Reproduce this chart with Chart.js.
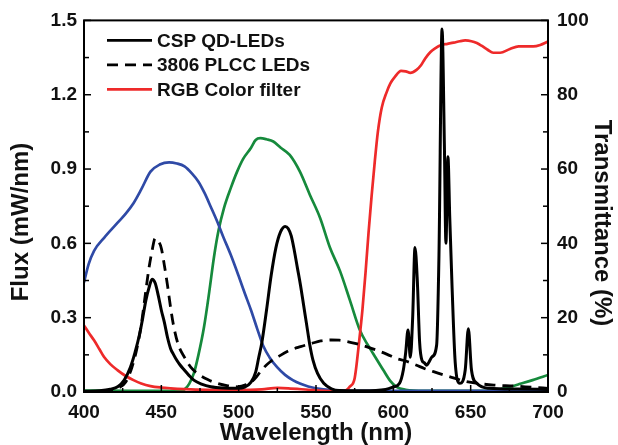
<!DOCTYPE html>
<html lang="en">
<head>
  <meta charset="UTF-8" />
  <title>Flux and Transmittance</title>
  <script src="https://cdn.jsdelivr.net/npm/chart.js"></script>
  <style>
    body { margin: 0; background: #fff; }
    #wrap { width: 618px; height: 445px; }
  </style>
</head>
<body>
  <div id="wrap"><canvas id="chart" width="618" height="445"></canvas></div>

  <script>
    // CSP QD-LEDs emission (flux, mW/nm)
    const cspWl = [400, 410, 417, 422, 426, 430, 433, 436, 438, 440, 442, 444, 446, 448, 450, 452, 454, 456, 458, 460, 462, 465, 468, 471, 476, 482, 490, 499, 504, 508, 511, 513, 515, 518, 521, 524, 527, 530, 532, 534, 536, 538, 540, 542, 544, 546, 548, 551, 555, 560, 565, 580, 595, 600, 604, 606.5, 608, 609.5, 611, 612.5, 614, 615.5, 617, 618.5, 620, 621.5, 623, 625, 628, 629.5, 631.5, 633, 634, 635.3, 636.5, 638, 640, 643, 646.5, 648.5, 650.5, 654, 662, 680, 700];
    const cspFlux = [0.003, 0.005, 0.011, 0.022, 0.048, 0.10, 0.16, 0.235, 0.30, 0.37, 0.42, 0.455, 0.44, 0.39, 0.33, 0.28, 0.22, 0.175, 0.15, 0.128, 0.11, 0.088, 0.066, 0.048, 0.032, 0.021, 0.016, 0.015, 0.02, 0.04, 0.08, 0.14, 0.2, 0.33, 0.47, 0.58, 0.645, 0.668, 0.66, 0.63, 0.57, 0.5, 0.43, 0.35, 0.27, 0.19, 0.13, 0.075, 0.035, 0.013, 0.006, 0.005, 0.01, 0.02, 0.035, 0.09, 0.16, 0.25, 0.14, 0.3, 0.583, 0.45, 0.2, 0.128, 0.118, 0.108, 0.12, 0.142, 0.19, 0.55, 1.465, 1.0, 0.6, 0.95, 0.7, 0.42, 0.12, 0.035, 0.09, 0.255, 0.09, 0.035, 0.015, 0.012, 0.01];

    // 3806 PLCC LEDs emission (flux, mW/nm)
    const plccWl = [400, 415, 422, 427, 431, 434, 437, 440, 442, 444, 446, 448, 450, 452, 454, 456, 458, 461, 465, 469, 474, 480, 486, 493, 499, 505, 510, 515, 520, 527, 533, 540, 547, 553, 560, 565, 570, 576, 583, 590, 596, 602, 608, 615, 620, 626, 633, 640, 647, 655, 665, 678, 690, 700];
    const plccFlux = [0.002, 0.005, 0.015, 0.04, 0.1, 0.17, 0.27, 0.41, 0.5, 0.57, 0.62, 0.61, 0.58, 0.51, 0.43, 0.34, 0.265, 0.19, 0.14, 0.1, 0.072, 0.05, 0.035, 0.025, 0.021, 0.03, 0.05, 0.09, 0.12, 0.148, 0.168, 0.183, 0.196, 0.206, 0.21, 0.209, 0.204, 0.195, 0.182, 0.167, 0.152, 0.135, 0.125, 0.108, 0.095, 0.082, 0.068, 0.055, 0.042, 0.034, 0.028, 0.024, 0.019, 0.015];

    // color filter transmittance (%)
    const redWl = [400, 403, 406.5, 410, 413, 417, 421.6, 427, 432, 437, 443, 450, 456, 465, 480, 500, 515, 525, 532, 545, 555, 562, 568, 572, 575, 578, 580, 582, 584, 586, 588, 590, 592.5, 595.7, 598, 601, 605, 608, 611, 615, 618, 620.5, 624, 627, 631, 635, 639, 643, 646.5, 650.5, 654, 657, 661, 664.6, 669, 675.4, 681, 690.5, 695, 700];
    const redT = [17.9, 16, 13.9, 11.5, 9.4, 7.5, 5.9, 4.3, 3.2, 2.3, 1.6, 1.2, 1.0, 0.8, 0.6, 0.5, 0.7, 1.1, 1.0, 0.6, 0.3, 0.2, 0.2, 1.5, 3.7, 14, 22, 32, 43, 53, 62, 70, 76.5, 80.7, 83, 84.8, 86.4, 86.3, 85.9, 86.7, 88, 89.7, 91.5, 92.5, 93.4, 93.7, 94.0, 94.4, 94.6, 94.4, 93.9, 93.2, 92.1, 91.3, 91.3, 92.3, 93.0, 93.0, 93.4, 94.3];

    const blueWl = [400, 403, 406.5, 413, 421.6, 427, 432, 437, 443, 449, 455, 460, 465, 470, 474, 478, 482, 486, 490, 495, 500, 504, 508, 512, 516, 520, 525, 530, 535, 540, 545, 550, 560, 580, 700];
    const blueT = [29.5, 34.4, 38, 41.5, 45.5, 48, 50.8, 54.5, 59.3, 61.2, 61.8, 61.5, 60.7, 58.7, 56.6, 53.5, 49.8, 46, 41.8, 36.8, 31.2, 26.5, 22, 17, 12.3, 9.3, 6.6, 4.6, 3.2, 2.2, 1.5, 1, 0.5, 0.3, 0.3];

    const greenWl = [400, 430, 462, 465, 468, 471, 474, 477.6, 481, 484, 487, 490.5, 495, 499, 503, 507.8, 511, 514, 518, 522.4, 527, 533, 539.6, 546, 552.6, 559, 565.5, 572, 578.4, 583, 587, 593.5, 598, 602, 608, 620, 660, 668, 675.4, 682, 690, 700];
    const greenT = [0.4, 0.3, 0.3, 0.7, 2.2, 5, 10, 17.5, 27, 36.2, 43.5, 49.5, 55, 59.3, 62.8, 65.6, 67.8, 68.3, 68, 67.4, 65.8, 63.8, 59.3, 53.1, 46.9, 38.9, 32.6, 24.6, 16.6, 13, 10.3, 5.9, 3, 1.4, 0.6, 0.3, 0.3, 0.6, 1.4, 2.2, 3.2, 4.6];

    const legendLabels = ['CSP QD-LEDs', '3806 PLCC LEDs', 'RGB Color filter'];
    const xTicks = [400, 450, 500, 550, 600, 650, 700];
    const xMinor = [425, 475, 525, 575, 625, 675];
    const fluxTicks = [0.0, 0.3, 0.6, 0.9, 1.2, 1.5];
    const fluxMinor = [0.15, 0.45, 0.75, 1.05, 1.35];
    const transTicks = [0, 20, 40, 60, 80, 100];
    const transMinor = [10, 30, 50, 70, 90];

    const pts = (xs, ys) => xs.map((x, i) => ({ x: x, y: ys[i] }));
    const FONT = "'Liberation Sans', Arial, sans-serif";
    Chart.defaults.font.family = FONT;
    Chart.defaults.font.weight = 'bold';
    Chart.defaults.color = '#111';

    const line = (label, data, color, axis, extra) => Object.assign({
      label: label,
      data: data,
      borderColor: color,
      backgroundColor: color,
      borderWidth: 2.7,
      pointRadius: 0,
      fill: false,
      cubicInterpolationMode: 'monotone',
      yAxisID: axis
    }, extra || {});

    const frameAndTicks = {
      id: 'frameAndTicks',
      afterDraw(chart) {
        const { ctx, chartArea: a, scales } = chart;
        ctx.save();
        ctx.strokeStyle = '#000';
        ctx.lineWidth = 2;
        ctx.setLineDash([]);
        ctx.strokeRect(a.left, a.top, a.right - a.left, a.bottom - a.top);
        ctx.lineWidth = 1.5;
        const tick = (x1, y1, x2, y2) => { ctx.beginPath(); ctx.moveTo(x1, y1); ctx.lineTo(x2, y2); ctx.stroke(); };
        xTicks.forEach(v => { const p = scales.x.getPixelForValue(v); tick(p, a.bottom, p, a.bottom - 7); });
        xMinor.forEach(v => { const p = scales.x.getPixelForValue(v); tick(p, a.bottom, p, a.bottom - 4); });
        fluxTicks.forEach(v => { const p = scales.y.getPixelForValue(v); tick(a.left, p, a.left + 7, p); });
        fluxMinor.forEach(v => { const p = scales.y.getPixelForValue(v); tick(a.left, p, a.left + 5, p); });
        transTicks.forEach(v => { const p = scales.y2.getPixelForValue(v); tick(a.right, p, a.right - 7, p); });
        transMinor.forEach(v => { const p = scales.y2.getPixelForValue(v); tick(a.right, p, a.right - 5, p); });

        // legend
        ctx.font = 'bold 19px ' + FONT;
        ctx.textBaseline = 'middle';
        ctx.textAlign = 'left';
        legendLabels.forEach((lab, i) => {
          const ds = chart.data.datasets[i];
          const y = a.top + 20 + i * 24.5;
          ctx.strokeStyle = ds.borderColor;
          ctx.lineWidth = 2.7;
          ctx.setLineDash(ds.borderDash || []);
          tick(a.left + 23, y, a.left + 68, y);
          ctx.setLineDash([]);
          ctx.fillStyle = '#111';
          ctx.fillText(lab, a.left + 73, y + 1);
        });

        // vertical axis titles (sit a bit below the plot centre in the original)
        ctx.font = 'bold 24px ' + FONT;
        ctx.textAlign = 'center';
        ctx.fillStyle = '#111';
        ctx.save();
        ctx.translate(21, 222);
        ctx.rotate(-Math.PI / 2);
        ctx.fillText('Flux (mW/nm)', 0, 0);
        ctx.restore();
        ctx.save();
        ctx.translate(602, 223);
        ctx.rotate(Math.PI / 2);
        ctx.fillText('Transmittance (%)', 0, 0);
        ctx.restore();
        ctx.restore();
      }
    };

    const setTicks = (arr) => (scale) => { scale.ticks = arr.map(v => ({ value: v })); };
    const noGrid = { display: false, drawTicks: false };

    new Chart(document.getElementById('chart').getContext('2d'), {
      type: 'line',
      data: {
        datasets: [
          line(legendLabels[0], pts(cspWl, cspFlux), '#000', 'y', { borderWidth: 3 }),
          line(legendLabels[1], pts(plccWl, plccFlux), '#000', 'y', { borderWidth: 2.8, borderDash: [11, 7] }),
          line(legendLabels[2], pts(redWl, redT), '#ee2a2a', 'y2'),
          line('Blue filter', pts(blueWl, blueT), '#2f4aa6', 'y2'),
          line('Green filter', pts(greenWl, greenT), '#168a3c', 'y2')
        ]
      },
      options: {
        responsive: false,
        animation: false,
        layout: { padding: { top: 18, left: 0, right: 0, bottom: 0 } },
        plugins: { legend: { display: false }, tooltip: { enabled: false } },
        scales: {
          x: {
            type: 'linear', min: 400, max: 700,
            afterBuildTicks: setTicks(xTicks),
            afterFit: (s) => { s.height = 53; },
            grid: noGrid, border: { display: false },
            ticks: { padding: 9, font: { size: 19, weight: 'bold' }, color: '#111' },
            title: { display: true, text: 'Wavelength (nm)', font: { size: 24, weight: 'bold', lineHeight: 1 }, padding: { top: 0, bottom: 0 }, color: '#111' }
          },
          y: {
            position: 'left', min: 0, max: 1.5,
            afterBuildTicks: setTicks(fluxTicks),
            afterFit: (s) => { s.width = 84; },
            grid: noGrid, border: { display: false },
            ticks: { padding: 7, font: { size: 19, weight: 'bold' }, color: '#111', callback: (v) => v.toFixed(1) }
          },
          y2: {
            position: 'right', min: 0, max: 100,
            afterBuildTicks: setTicks(transTicks),
            afterFit: (s) => { s.width = 70; },
            grid: noGrid, border: { display: false },
            ticks: { padding: 9, font: { size: 19, weight: 'bold' }, color: '#111' }
          }
        }
      },
      plugins: [frameAndTicks]
    });
  </script>
</body>
</html>
